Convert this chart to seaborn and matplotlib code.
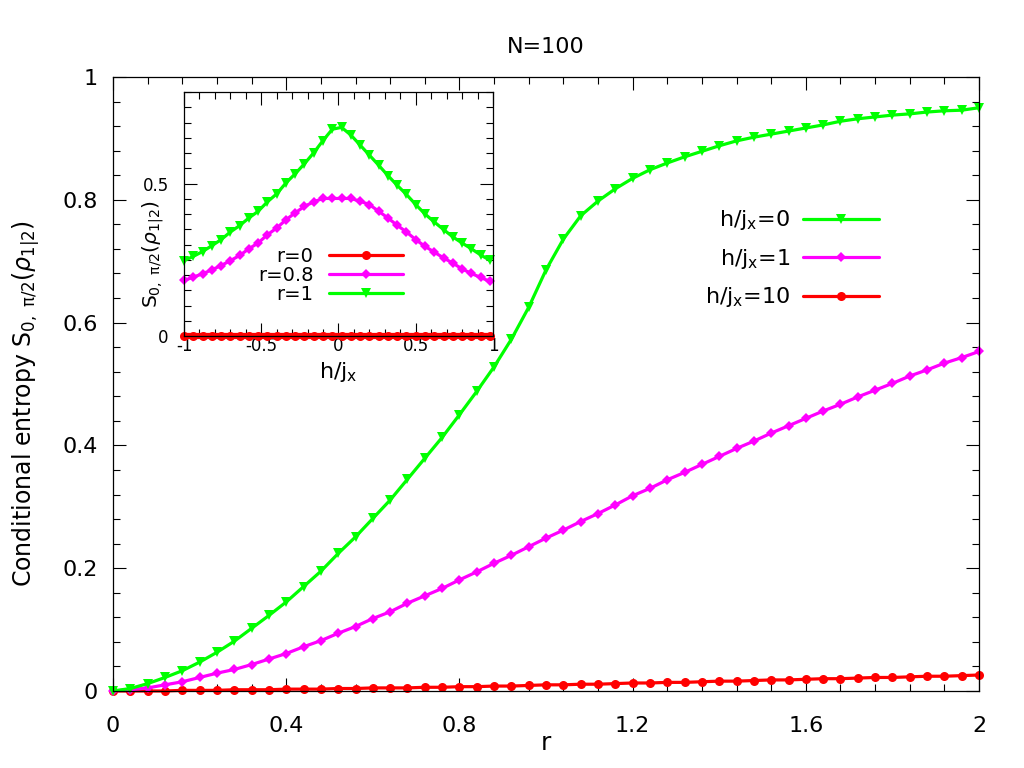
import matplotlib
matplotlib.use('Agg')
import matplotlib.pyplot as plt
from matplotlib.ticker import MultipleLocator, FuncFormatter
import seaborn as sns

# main panel: conditional entropy vs r, N=100
r_vals = [0.00, 0.04, 0.08, 0.12, 0.16, 0.20, 0.24, 0.28, 0.32, 0.36,
          0.40, 0.44, 0.48, 0.52, 0.56, 0.60, 0.64, 0.68, 0.72, 0.76,
          0.80, 0.84, 0.88, 0.92, 0.96, 1.00, 1.04, 1.08, 1.12, 1.16,
          1.20, 1.24, 1.28, 1.32, 1.36, 1.40, 1.44, 1.48, 1.52, 1.56,
          1.60, 1.64, 1.68, 1.72, 1.76, 1.80, 1.84, 1.88, 1.92, 1.96, 2.00]

s_h0 = [0.000, 0.004, 0.012, 0.022, 0.033, 0.047, 0.063, 0.081, 0.102, 0.123,
        0.145, 0.170, 0.195, 0.224, 0.251, 0.281, 0.311, 0.345, 0.379, 0.413,
        0.450, 0.488, 0.528, 0.573, 0.625, 0.686, 0.736, 0.774, 0.798, 0.818,
        0.835, 0.849, 0.860, 0.870, 0.879, 0.888, 0.896, 0.902, 0.907, 0.912,
        0.917, 0.922, 0.928, 0.932, 0.935, 0.938, 0.940, 0.943, 0.945, 0.946, 0.950]

s_h1 = [0.000, 0.002, 0.005, 0.010, 0.015, 0.022, 0.029, 0.035, 0.043, 0.052,
        0.061, 0.072, 0.082, 0.094, 0.105, 0.118, 0.129, 0.143, 0.155, 0.167,
        0.181, 0.194, 0.208, 0.221, 0.235, 0.249, 0.262, 0.276, 0.289, 0.303,
        0.318, 0.330, 0.344, 0.356, 0.369, 0.382, 0.395, 0.407, 0.420, 0.432,
        0.444, 0.456, 0.467, 0.479, 0.490, 0.501, 0.513, 0.523, 0.534, 0.543, 0.553]

s_h10 = [0.000, 0.000, 0.000, 0.000, 0.001, 0.001, 0.001, 0.002, 0.002, 0.002,
         0.003, 0.003, 0.003, 0.004, 0.004, 0.005, 0.005, 0.005, 0.006, 0.006,
         0.007, 0.007, 0.008, 0.008, 0.009, 0.010, 0.010, 0.011, 0.011, 0.012,
         0.013, 0.013, 0.014, 0.014, 0.015, 0.016, 0.016, 0.017, 0.018, 0.018,
         0.019, 0.020, 0.020, 0.021, 0.022, 0.022, 0.023, 0.024, 0.024, 0.025, 0.026]

# inset: entropy vs h/j_x
h_vals = [-1.00, -0.94, -0.88, -0.82, -0.76, -0.70, -0.64, -0.58, -0.52, -0.46,
          -0.40, -0.34, -0.28, -0.22, -0.16, -0.10, -0.04, 0.02, 0.08, 0.14,
          0.20, 0.26, 0.32, 0.38, 0.44, 0.50, 0.56, 0.62, 0.68, 0.74,
          0.80, 0.86, 0.92, 0.98]

s_r0 = [0.0] * 34

s_r08 = [0.182, 0.193, 0.204, 0.217, 0.231, 0.247, 0.264, 0.286, 0.305, 0.332,
         0.354, 0.381, 0.404, 0.425, 0.440, 0.451, 0.451, 0.451, 0.451, 0.442,
         0.431, 0.409, 0.387, 0.363, 0.341, 0.316, 0.294, 0.275, 0.256, 0.239,
         0.220, 0.205, 0.192, 0.179]

s_r1 = [0.247, 0.261, 0.277, 0.296, 0.316, 0.341, 0.362, 0.387, 0.409, 0.440,
        0.466, 0.502, 0.532, 0.565, 0.601, 0.641, 0.678, 0.684, 0.659, 0.626,
        0.593, 0.560, 0.526, 0.494, 0.464, 0.431, 0.400, 0.374, 0.349, 0.325,
        0.305, 0.286, 0.266, 0.248]

GREEN = '#00ff00'
MAGENTA = '#ff00ff'
RED = '#ff0000'

sns.set_theme(style='ticks', rc={
    'axes.edgecolor': 'black', 'text.color': 'black', 'axes.labelcolor': 'black',
    'xtick.color': 'black', 'ytick.color': 'black',
})
plt.rcParams['font.family'] = ['DejaVu Sans']
plt.rcParams['mathtext.fontset'] = 'dejavusans'

fmt = FuncFormatter(lambda v, p: f'{round(v, 6):g}')


def style_axes(ax, xmaj, xmin, ymaj, ymin, labelsize, xpad, ypad):
    ax.xaxis.set_major_locator(MultipleLocator(xmaj))
    ax.xaxis.set_minor_locator(MultipleLocator(xmin))
    ax.yaxis.set_major_locator(MultipleLocator(ymaj))
    ax.yaxis.set_minor_locator(MultipleLocator(ymin))
    ax.xaxis.set_major_formatter(fmt)
    ax.yaxis.set_major_formatter(fmt)
    ax.tick_params(which='both', direction='in', top=True, right=True, width=0.8)
    ax.tick_params(which='major', length=9.5)
    ax.tick_params(which='minor', length=5)
    ax.tick_params(axis='x', pad=xpad, labelsize=labelsize)
    ax.tick_params(axis='y', pad=ypad, labelsize=labelsize)
    for sp in ax.spines.values():
        sp.set_visible(True)
        sp.set_linewidth(0.9)
        sp.set_color('black')


def draw(ax, x, y, color, marker, ms, label, lw=2.3):
    sns.lineplot(x=x, y=y, ax=ax, color=color, marker=marker, markersize=ms,
                 markeredgewidth=0, linewidth=lw, label=label, legend=False,
                 clip_on=False, sort=False)


fig = plt.figure(figsize=(10.24, 7.68), dpi=100)
ax = fig.add_axes([0.1104, 0.1003, 0.8457, 0.7994])

draw(ax, r_vals, s_h10, RED, 'o', 6.5, r'h/j$_{\rm x}$=10')
draw(ax, r_vals, s_h1, MAGENTA, 'D', 5.0, r'h/j$_{\rm x}$=1')
draw(ax, r_vals, s_h0, GREEN, 'v', 7.0, r'h/j$_{\rm x}$=0')

ax.set_xlim(0, 2)
ax.set_ylim(0, 1)
style_axes(ax, 0.4, 0.08, 0.2, 0.04, 16, 18, 11)
ax.set_title('N=100', fontsize=16, pad=17)
ax.set_xlabel('r', fontsize=18)
ax.set_ylabel(r'Conditional entropy S$_{\rm 0,\ \pi/2}$($\rho_{\rm 1|2}$)', fontsize=17)
ax.xaxis.set_label_coords(0.5, -0.066)
ax.yaxis.set_label_coords(-0.083, 0.468)

h, l = ax.get_legend_handles_labels()
ax.legend(h[::-1], l[::-1], markerfirst=False, frameon=False, loc='upper right',
          bbox_to_anchor=(0.8845, 0.786), borderpad=0, borderaxespad=0,
          handlelength=3.4, handletextpad=0.6, labelspacing=0.65, fontsize=16)

# inset
axin = fig.add_axes([0.1797, 0.5625, 0.3017, 0.3177])
axin.set_facecolor('white')
draw(axin, h_vals, s_r0, RED, 'o', 6.5, 'r=0', lw=4.5)
draw(axin, h_vals, s_r08, MAGENTA, 'D', 5.0, 'r=0.8')
draw(axin, h_vals, s_r1, GREEN, 'v', 6.5, 'r=1')
axin.set_xlim(-1, 1)
axin.set_ylim(0, 0.8)
style_axes(axin, 0.5, 0.1, 0.5, 0.05, 12, 1, 11)
axin.set_xlabel(r'h/j$_{\rm x}$', fontsize=16)
axin.set_ylabel(r'S$_{\rm 0,\ \pi/2}$($\rho_{\rm 1|2}$)', fontsize=14.5)
axin.xaxis.set_label_coords(0.5, -0.1)
axin.yaxis.set_label_coords(-0.058, 0.335)
leg_in = axin.legend(markerfirst=False, frameon=False, loc='upper right',
                     bbox_to_anchor=(0.709, 0.365), borderpad=0, borderaxespad=0,
                     handlelength=3.8, handletextpad=0.8, labelspacing=0.0, fontsize=14)
leg_in.get_lines()[0].set_linewidth(2.3)

fig.savefig('out.png', dpi=100)
